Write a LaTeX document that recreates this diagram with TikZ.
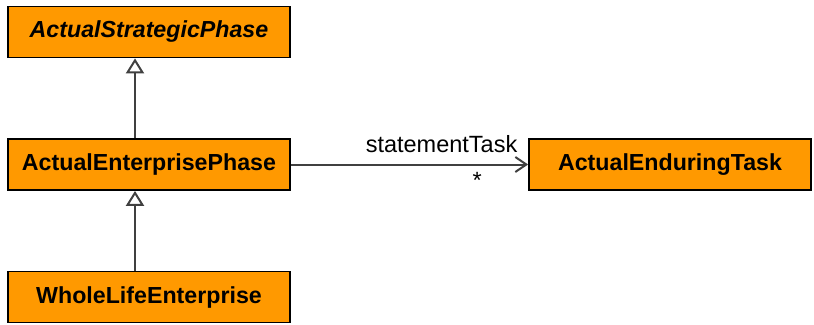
\documentclass[tikz,border=0pt]{standalone}
\usepackage{fontspec}
\setmainfont{Liberation Sans}
\usetikzlibrary{arrows.meta}
\definecolor{umlorange}{HTML}{FF9900}
\definecolor{linegray}{HTML}{404040}
\begin{document}
\begin{tikzpicture}[x=1pt, y=-1pt,
    every node/.style={rectangle, draw=black, fill=umlorange, line width=1.8pt, minimum width=282pt, minimum height=51pt, inner sep=0pt, font=\fontsize{23.2}{26}\selectfont\bfseries},
    inherit/.style={draw=linegray, line width=2pt, -{Triangle[open, length=15pt, width=18pt]}},
    assoc/.style={draw=linegray, line width=2pt, -{Straight Barb[length=11pt, width=15pt]}}]
    \useasboundingbox (0, 0) rectangle (814, 324);
    \node[font=\fontsize{23.2}{26}\selectfont\bfseries\itshape] (asp) at (149, 32) {ActualStrategicPhase};
    \node (aep) at (149, 164.5) {ActualEnterprisePhase};
    \node (wle) at (149, 297) {WholeLifeEnterprise};
    \node (aet) at (670, 164.5) {ActualEnduringTask};
    \draw[inherit] ([xshift=-14pt]aep.north) -- ([xshift=-14pt]asp.south);
    \draw[inherit] ([xshift=-14pt]wle.north) -- ([xshift=-14pt]aep.south);
    \draw[assoc] (aep) -- node[pos=0.635, above=11pt, draw=none, fill=none, minimum width=0pt, minimum height=0pt, font=\fontsize{23.5}{26}\selectfont] {statementTask}
        node[pos=0.785, below=7pt, draw=none, fill=none, minimum width=0pt, minimum height=0pt, font=\fontsize{23.5}{26}\selectfont] {*} (aet);
\end{tikzpicture}
\end{document}
